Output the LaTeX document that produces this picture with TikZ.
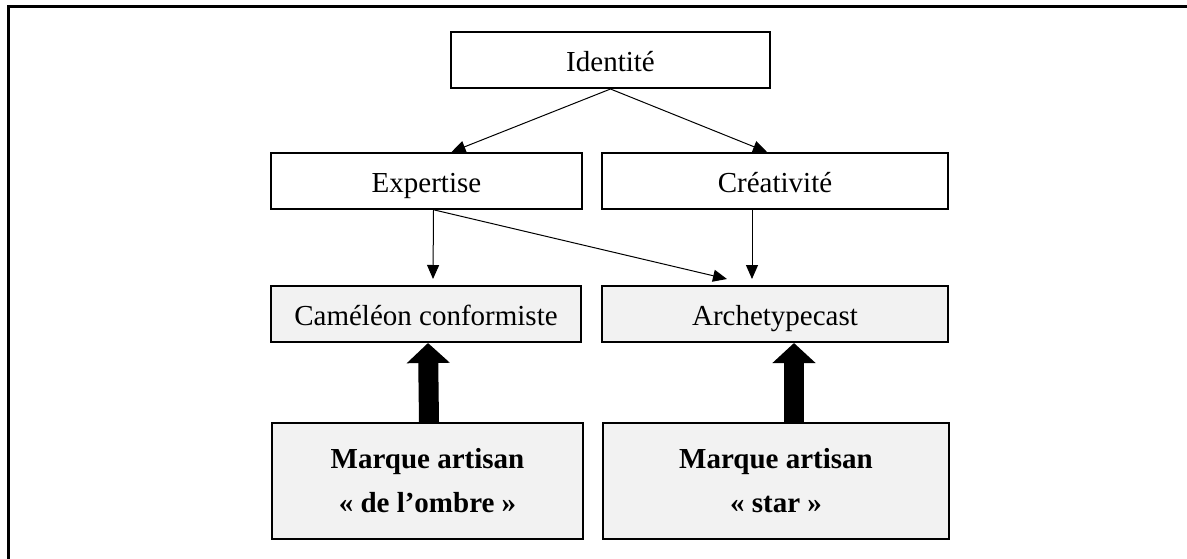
\documentclass[tikz,border=0pt]{standalone}
\usepackage{fontspec}
\setmainfont{Liberation Serif}
\usetikzlibrary{positioning}
\usetikzlibrary{arrows.meta}

\tikzset{
  box/.style={draw,line width=2pt,inner sep=0pt,text height=24pt,text depth=2pt,
    font=\fontsize{29}{34}\selectfont},
  greybox/.style={box,fill=boxgrey},
  twoline/.style={greybox,text height=,text depth=,align=center,
    font=\fontsize{29}{44}\selectfont\bfseries},
  thin/.style={line width=1pt,-{Triangle[length=14pt,width=12pt]}},
  fat/.style={line width=20pt,-{Triangle[length=20pt,width=42pt]}}
}
\definecolor{boxgrey}{RGB}{242,242,242}

\begin{document}
\begin{tikzpicture}[x=1pt,y=-1pt]
\useasboundingbox (0,0) rectangle (1187,558);
\draw[line width=3pt] (8,560) |- (1190,6);
\node[box,minimum width=319pt,minimum height=56pt] (id) at (610.5,60) {Identité};
\node[box,minimum width=311pt,minimum height=56pt] (ex) at (426.5,181) {Expertise};
\node[box,minimum width=346pt,minimum height=56pt] (cr) at (775,181) {Créativité};
\node[greybox,minimum width=310pt,minimum height=56pt] (cc) at (426,314) {Caméléon conformiste};
\node[greybox,minimum width=346pt,minimum height=56pt] (ar) at (775,314) {Archetypecast};
\node[twoline,minimum width=311pt,minimum height=116pt] (m1) at (427.5,481) {Marque artisan\\« de l’ombre »};
\node[twoline,minimum width=346pt,minimum height=116pt] (m2) at (776,481) {Marque artisan\\« star »};
\draw[thin] (id.south) -- ([xshift=25pt]ex.north);
\draw[thin] (id.south) -- ([xshift=-8pt]cr.north);
\draw[thin] ([xshift=7pt]ex.south) -- ([xshift=7pt,yshift=6pt]cc.north);
\draw[thin] ([xshift=8pt]ex.south) -- ([xshift=-48pt,yshift=6pt]ar.north);
\draw[thin] ([xshift=-23pt]cr.south) -- ([xshift=-23pt,yshift=6pt]ar.north);
\draw[fat] ([xshift=1.5pt]m1.north) -- ([xshift=2pt]cc.south);
\draw[fat] ([xshift=18pt]m2.north) -- ([xshift=19pt]ar.south);
\end{tikzpicture}
\end{document}
